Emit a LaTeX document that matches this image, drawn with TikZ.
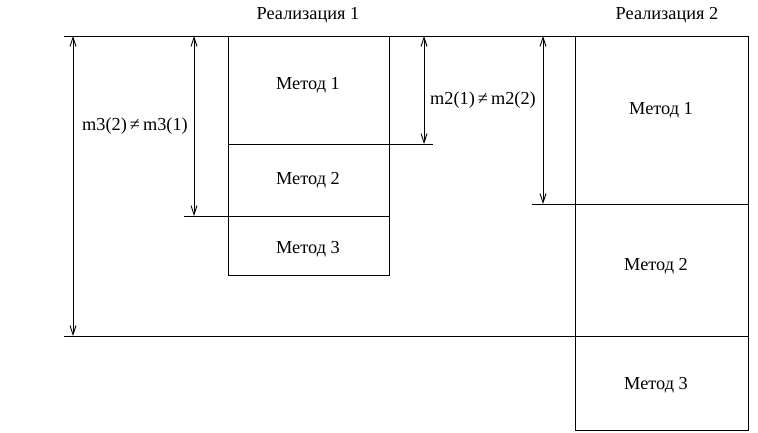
\documentclass[tikz,border=0pt]{standalone}
\usepackage{fontspec}
\setmainfont{Liberation Serif}
\usetikzlibrary{arrows.meta}

\begin{document}
\begin{tikzpicture}[x=1pt, y=-1pt, line width=0.9pt,
    every node/.style={font=\fontsize{18.3}{21}\selectfont},
    box/.style={draw, rectangle, inner sep=0pt, anchor=north west, minimum width=#1},
    dim/.style={{Straight Barb[length=9pt,width=6pt]}-{Straight Barb[length=9pt,width=6pt]}}]

\useasboundingbox (0,0) rectangle (758,433);

% Realization 1
\node (r1) at (308,15) {Реализация 1};
\node[box=161pt, minimum height=108pt] (b11) at (228,36) {};
\node[box=161pt, minimum height=72pt] (b12) at (228,144) {};
\node[box=161pt, minimum height=59pt] (b13) at (228,216) {};
\node (t11) at (308,85) {Метод 1};
\node (t12) at (308,180) {Метод 2};
\node (t13) at (308,249) {Метод 3};

% Realization 2
\node (r2) at (667,15) {Реализация 2};
\node[box=173pt, minimum height=168pt] (b21) at (575,36) {};
\node[box=173pt, minimum height=132pt] (b22) at (575,204) {};
\node[box=173pt, minimum height=94pt] (b23) at (575,336) {};
\node (t21) at (661,110) {Метод 1};
\node (t22) at (656,266) {Метод 2};
\node (t23) at (656,385) {Метод 3};

% reference lines
\coordinate (top) at (64,36);
\coordinate (bot) at (64,336);
\coordinate (e12) at (433,144);
\coordinate (s13) at (184,216);
\coordinate (s22) at (532,204);
\draw (top) -- (b21.north east);
\draw (bot) -- (b23.north east);
\draw (b12.north west) -- (e12);
\draw (s13) -- (b13.north east);
\draw (s22) -- (b22.north east);

% dimensions
\draw[dim] (73,36) -- (73,336);
\draw[dim] (194,36) -- (194,216);
\draw[dim] (424,36) -- (424,144);
\draw[dim] (543,36) -- (543,204);
\node (m3) at (135,126) {m3(2)\,≠\,m3(1)};
\node (m2) at (483,100) {m2(1)\,≠\,m2(2)};

\end{tikzpicture}
\end{document}
